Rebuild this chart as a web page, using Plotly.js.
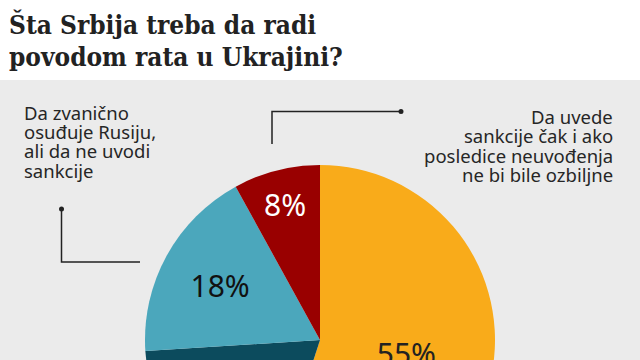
<!DOCTYPE html>
<html>
<head>
<meta charset="utf-8">
<script src="https://cdn.plot.ly/plotly-3.0.1.min.js"></script>
<style>
html,body{margin:0;padding:0;overflow:hidden;background:#fff;}
#chart{width:640px;height:520px;}
</style>
</head>
<body>
<div id="chart"></div>
<script>
// Data
const categories = [
  "Da uvede sankcije čak i ako posledice neuvođenja ne bi bile ozbiljne",
  "Ostalo",
  "Da zvanično osuđuje Rusiju, ali da ne uvodi sankcije",
  "Da ne uvodi sankcije i ne osuđuje Rusiju"
];
const values = [55, 19, 18, 8];
const sliceColors = ["#F9AB1A", "#0C4B5D", "#4BA7BC", "#990000"];
const textColors = ["#222222", "#ffffff", "#111111", "#ffffff"];
const titleLines = ["Šta Srbija treba da radi", "povodom rata u Ukrajini?"];
const leftLabel = ["Da zvanično", "osuđuje Rusiju,", "ali da ne uvodi", "sankcije"];
const rightLabel = ["Da uvede", "sankcije čak i ako", "posledice neuvođenja", "ne bi bile ozbiljne"];

const W = 640, H = 520;
const px = x => x / W;
const py = y => 1 - y / H;

const trace = {
  type: "pie",
  values: values,
  labels: categories,
  sort: false,
  direction: "clockwise",
  rotation: 0,
  marker: {colors: sliceColors, line: {width: 0}},
  textinfo: "percent",
  texttemplate: "%{percent:.0%}",
  textposition: "inside",
  insidetextorientation: "horizontal",
  textfont: {family: "Noto Sans", size: 30, color: textColors},
  hoverinfo: "none",
  domain: {x: [px(145), px(495)], y: [py(515), py(165)]},
  showlegend: false
};

const lineColor = "#222222";
const shapes = [
  {type: "rect", xref: "paper", yref: "paper", x0: 0, x1: 1, y0: 0, y1: py(80),
   fillcolor: "#EBEBEB", line: {width: 0}, layer: "below"},
  // right leader
  {type: "path", xref: "paper", yref: "paper",
   path: `M ${px(401)} ${py(111.5)} L ${px(272)} ${py(111.5)} L ${px(272)} ${py(144)}`,
   line: {color: lineColor, width: 1.5}, layer: "above"},
  {type: "circle", xref: "paper", yref: "paper",
   x0: px(398.5), x1: px(403.5), y0: py(114), y1: py(109),
   fillcolor: lineColor, line: {width: 0}, layer: "above"},
  // left leader
  {type: "path", xref: "paper", yref: "paper",
   path: `M ${px(61.5)} ${py(209)} L ${px(61.5)} ${py(262)} L ${px(140)} ${py(262)}`,
   line: {color: lineColor, width: 1.5}, layer: "above"},
  {type: "circle", xref: "paper", yref: "paper",
   x0: px(59), x1: px(64), y0: py(211.5), y1: py(206.5),
   fillcolor: lineColor, line: {width: 0}, layer: "above"}
];

const annotations = [];
titleLines.forEach((t, i) => {
  annotations.push({
    xref: "paper", yref: "paper", x: px(7), y: py(24 + i * 33),
    xanchor: "left", yanchor: "middle", showarrow: false,
    text: "<b>" + t + "</b>",
    font: {family: "DejaVu Serif Condensed, DejaVu Serif", size: 26, color: "#222222"}
  });
});
leftLabel.forEach((t, i) => {
  annotations.push({
    xref: "paper", yref: "paper", x: px(22), y: py(112 + i * 19.4),
    xanchor: "left", yanchor: "middle", showarrow: false, text: t,
    font: {family: "Noto Sans", size: 18.5, color: "#262626"}
  });
});
rightLabel.forEach((t, i) => {
  annotations.push({
    xref: "paper", yref: "paper", x: px(615), y: py(116.5 + i * 19.4),
    xanchor: "right", yanchor: "middle", showarrow: false, text: t,
    font: {family: "Noto Sans", size: 18.5, color: "#262626"}
  });
});

const layout = {
  width: W, height: H,
  margin: {l: 0, r: 0, t: 0, b: 0, pad: 0},
  paper_bgcolor: "#ffffff",
  showlegend: false,
  shapes: shapes,
  annotations: annotations
};

Plotly.newPlot("chart", [trace], layout, {staticPlot: true, displayModeBar: false});
</script>
</body>
</html>
